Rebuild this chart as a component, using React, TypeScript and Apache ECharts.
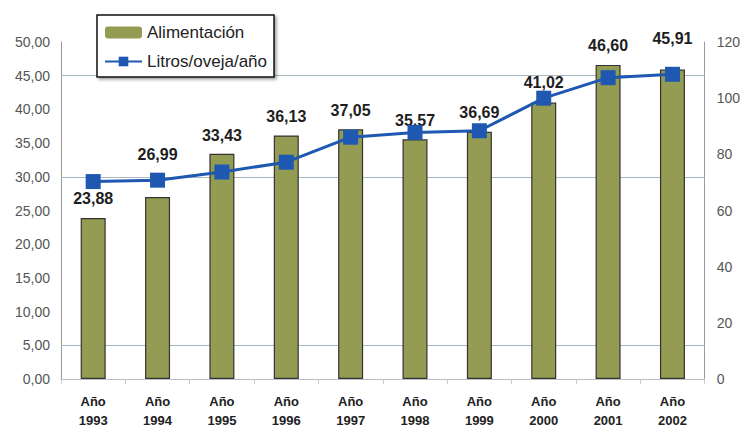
import React, { useEffect, useRef } from "react";
import * as echarts from "echarts";

const YEARS = ["1993", "1994", "1995", "1996", "1997", "1998", "1999", "2000", "2001", "2002"];
const ALIMENTACION = [23.88, 26.99, 33.43, 36.13, 37.05, 35.57, 36.69, 41.02, 46.6, 45.91];
const LITROS = [70.3, 70.8, 73.7, 77.2, 86.1, 87.8, 88.4, 100.0, 107.3, 108.5];
const GRID_LINES = [45, 30, 5];
const LABEL_DIST = [12, 35, 10, 11, 11, 11, 11, 12, 11, 23];

const FONT = "'Liberation Sans', Arial, sans-serif";

export default function App() {
  const ref = useRef<HTMLDivElement>(null);
  useEffect(() => {
    if (!ref.current) return;
    const chart = echarts.init(ref.current, null, { renderer: "svg" });
    const fmt2 = (v: number) => v.toFixed(2).replace(".", ",");
    chart.setOption({
      animation: false,
      backgroundColor: "#ffffff",
      textStyle: { fontFamily: FONT },
      grid: { left: 61, right: 35, top: 42, bottom: 48, containLabel: false },
      legend: {
        orient: "vertical",
        left: 97,
        top: 15,
        padding: [9, 7, 7, 7],
        itemGap: 12,
        itemWidth: 37,
        itemHeight: 12,
        backgroundColor: "#ffffff",
        borderColor: "#111111",
        borderWidth: 1.5,
        shadowBlur: 3,
        shadowOffsetX: 2,
        shadowOffsetY: 2,
        shadowColor: "rgba(0,0,0,0.35)",
        textStyle: { fontFamily: FONT, fontSize: 17, color: "#222222" },
        data: [
          {
            name: "Alimentación",
            itemStyle: { borderWidth: 0, borderColor: "rgba(0,0,0,0)", color: "#939c52" },
          },
          { name: "Litros/oveja/año" },
        ],
      },
      xAxis: {
        type: "category",
        data: YEARS.map((y) => "Año\n" + y),
        axisLine: { lineStyle: { color: "#b8c0c4", width: 1 } },
        axisTick: { show: true, alignWithLabel: false, length: 5, lineStyle: { color: "#c8cdd0" } },
        axisLabel: {
          fontFamily: FONT,
          fontSize: 13,
          fontWeight: "bold",
          color: "#222222",
          lineHeight: 19,
          margin: 13,
        },
      },
      yAxis: [
        {
          type: "value",
          min: 0,
          max: 50,
          interval: 5,
          axisLine: { show: true, lineStyle: { color: "#9a9a9a", width: 1 } },
          axisTick: { show: false },
          splitLine: { show: false },
          axisLabel: {
            fontFamily: FONT,
            fontSize: 14,
            color: "#555555",
            margin: 11,
            formatter: (v: number) => fmt2(v),
          },
        },
        {
          type: "value",
          min: 0,
          max: 120,
          interval: 20,
          position: "right",
          axisLine: { show: true, lineStyle: { color: "#9a9a9a", width: 1 } },
          axisTick: { show: false },
          splitLine: { show: false },
          axisLabel: {
            fontFamily: FONT,
            fontSize: 14,
            color: "#555555",
            margin: 12,
          },
        },
      ],
      series: [
        {
          name: "Alimentación",
          type: "bar",
          yAxisIndex: 0,
          z: 2,
          barWidth: 25,
          data: ALIMENTACION.map((v, i) => ({
            value: v,
            label: { distance: LABEL_DIST[i] },
          })),
          itemStyle: { color: "#939c52", borderColor: "#333333", borderWidth: 1.2 },
          label: {
            show: true,
            position: "top",
            fontFamily: FONT,
            fontSize: 16,
            fontWeight: "bold",
            color: "#1e1e1e",
            formatter: (p: any) => fmt2(p.value),
          },
          markLine: {
            z: 1,
            silent: true,
            symbol: "none",
            label: { show: false },
            lineStyle: { color: "#a8b8c0", width: 1, type: "solid" },
            data: GRID_LINES.map((g) => ({ yAxis: g })),
          },
        },
        {
          name: "Litros/oveja/año",
          type: "line",
          yAxisIndex: 1,
          z: 3,
          data: LITROS,
          symbol: "rect",
          symbolSize: 15,
          lineStyle: { color: "#1f58b0", width: 3 },
          itemStyle: { color: "#1f58b0" },
        },
      ],
    });
    return () => chart.dispose();
  }, []);
  return (
    <div
      ref={ref}
      style={{ position: "fixed", left: 0, top: 0, width: 743, height: 430, background: "#fff" }}
    />
  );
}
